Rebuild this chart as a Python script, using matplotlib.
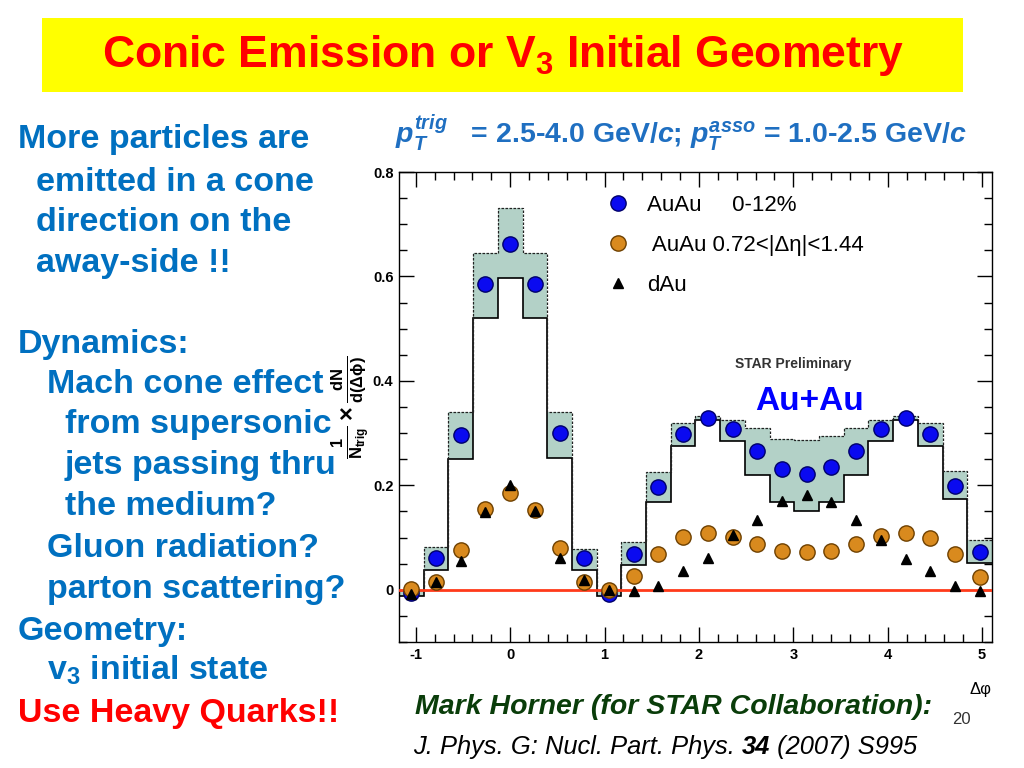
import matplotlib
matplotlib.use("Agg")
import matplotlib.pyplot as plt
import numpy as np

plt.rcParams['font.family'] = ['Liberation Sans', 'DejaVu Sans']
plt.rcParams['mathtext.fontset'] = 'custom'
plt.rcParams['mathtext.rm'] = 'Liberation Sans:bold'
plt.rcParams['mathtext.it'] = 'Liberation Sans:italic:bold'
plt.rcParams['mathtext.bf'] = 'Liberation Sans:bold'

# delta phi bin centres (pi/12 wide bins)
dphi = [-1.047, -0.785, -0.524, -0.262, 0.0, 0.262, 0.524, 0.785, 1.047, 1.309,
        1.571, 1.833, 2.094, 2.356, 2.618, 2.880, 3.142, 3.403, 3.665, 3.927,
        4.189, 4.451, 4.712, 4.974]

auau_central = [-0.006, 0.061, 0.296, 0.586, 0.663, 0.586, 0.300, 0.060, -0.008, 0.069,
                0.197, 0.298, 0.329, 0.307, 0.266, 0.232, 0.222, 0.235, 0.266, 0.307,
                0.329, 0.298, 0.199, 0.073]
auau_deta = [0.002, 0.015, 0.077, 0.154, 0.185, 0.152, 0.080, 0.015, 0.000, 0.026,
             0.068, 0.101, 0.109, 0.101, 0.088, 0.075, 0.072, 0.075, 0.087, 0.103,
             0.109, 0.100, 0.069, 0.024]
dau = [-0.008, 0.015, 0.055, 0.149, 0.200, 0.151, 0.061, 0.018, 0.000, -0.003,
       0.007, 0.036, 0.061, 0.104, 0.134, 0.170, 0.181, 0.168, 0.133, 0.095,
       0.058, 0.036, 0.007, -0.003]
# systematic band for AuAu 0-12%
sys_hi = [0.000, 0.082, 0.341, 0.645, 0.731, 0.645, 0.341, 0.079, 0.000, 0.091,
          0.226, 0.320, 0.333, 0.326, 0.309, 0.289, 0.286, 0.294, 0.309, 0.326,
          0.333, 0.320, 0.227, 0.095]
sys_lo = [-0.011, 0.038, 0.250, 0.521, 0.597, 0.521, 0.253, 0.038, -0.011, 0.047,
          0.169, 0.276, 0.326, 0.284, 0.219, 0.168, 0.151, 0.169, 0.219, 0.284,
          0.326, 0.276, 0.173, 0.051]

xticks = [-1, 0, 1, 2, 3, 4, 5]
xtick_labels = ['-1', '0', '1', '2', '3', '4', '5']
yticks = [0, 0.2, 0.4, 0.6, 0.8]
ytick_labels = ['0', '0.2', '0.4', '0.6', '0.8']

left_lines = [
    ("More particles are", 18, 148, '#0070c0'),
    ("emitted in a cone", 36, 191, '#0070c0'),
    ("direction on the", 36, 231, '#0070c0'),
    ("away-side !!", 36, 272, '#0070c0'),
    ("Dynamics:", 18, 353, '#0070c0'),
    ("Mach cone effect", 47, 393, '#0070c0'),
    ("from supersonic", 65, 433, '#0070c0'),
    ("jets passing thru", 65, 474, '#0070c0'),
    ("the medium?", 65, 515, '#0070c0'),
    ("Gluon radiation?", 47, 557, '#0070c0'),
    ("parton scattering?", 47, 598, '#0070c0'),
    ("Geometry:", 18, 640, '#0070c0'),
    ("v$_3$ initial state", 47, 680, '#0070c0'),
    ("Use Heavy Quarks!!", 18, 722, '#ff0000'),
]

W, H = 1024, 768
fig = plt.figure(figsize=(W / 100, H / 100), dpi=100)
fig.patch.set_facecolor('white')

# title box
fig.patches.append(plt.Rectangle((42 / W, 1 - 92 / H), 921 / W, 74 / H,
                                 transform=fig.transFigure, facecolor='#ffff00',
                                 edgecolor='none', zorder=0))
fig.text(503 / W, 1 - 56 / H, "Conic Emission or V$_3$ Initial Geometry",
         fontsize=32, fontweight='bold', color='#ff0000', ha='center', va='center')

for txt, x, y, c in left_lines:
    fig.text(x / W, 1 - y / H, txt, fontsize=24.5, fontweight='bold', color=c,
             ha='left', va='baseline')

fig.text(395 / W, 1 - 143 / H,
         r"$p_T^{trig}$   = 2.5-4.0 GeV/$c$; $p_T^{asso}$ = 1.0-2.5 GeV/$c$",
         fontsize=20.5, fontweight='bold', color='#1f6fc1', ha='left', va='baseline')

ax = fig.add_axes([399 / W, 1 - 642 / H, 593 / W, 470 / H])

x = np.array(dphi)
w = x[1] - x[0]
edges = np.append(x - w / 2, x[-1] + w / 2)

ax.stairs(sys_hi, edges, baseline=sys_lo, fill=True, color='#b3d1c7', zorder=1)
ax.stairs(sys_lo, edges, baseline=None, color='black', lw=1.2, zorder=2)
ax.stairs(sys_hi, edges, baseline=None, color='#222222', lw=0.9,
          linestyle=(0, (2, 1.2)), zorder=2)
ax.axhline(0, color='#ff3a1a', lw=2, zorder=3)

h1, = ax.plot(x, auau_central, 'o', ms=11, mfc='#0a0af0', mec='#00006a', mew=1,
              linestyle='none', zorder=4, label='AuAu     0-12%')
h2, = ax.plot(x, auau_deta, 'o', ms=11, mfc='#d98a1e', mec='#6e4000', mew=1,
              linestyle='none', zorder=5, label=' AuAu 0.72<|Δη|<1.44')
h3, = ax.plot(x, dau, '^', ms=7, color='black', linestyle='none', zorder=6,
              label='dAu')

ax.set_xlim(edges[0], edges[-1])
ax.set_ylim(-0.1, 0.8)
ax.set_xticks(xticks, labels=xtick_labels)
ax.set_yticks(yticks, labels=ytick_labels)
ax.set_xticks(np.arange(-1.0, 5.2, 0.2), minor=True)
ax.set_yticks(np.arange(-0.1, 0.81, 0.05), minor=True)
ax.tick_params(which='both', direction='in', top=True, right=True, width=1)
ax.tick_params(which='major', length=11, labelsize=10.5, pad=4)
ax.tick_params(which='minor', length=6)
for lab in ax.get_xticklabels() + ax.get_yticklabels():
    lab.set_fontweight('bold')
for s in ax.spines.values():
    s.set_linewidth(1)

ax.set_ylabel(r"$\frac{\mathrm{1}}{\mathrm{N_{trig}}}\times\frac{\mathrm{dN}}{\mathrm{d(\Delta\phi)}}$",
              fontsize=17)
ax.yaxis.set_label_coords(-0.045, 0.5)
ax.set_xlabel('Δφ', loc='right', fontsize=12, labelpad=15)

ax.legend(handles=[h1, h2, h3], loc='upper left', bbox_to_anchor=(0.332, 0.975),
          frameon=False, fontsize=16, handlelength=1.0, handletextpad=0.8,
          labelspacing=0.85, borderpad=0)

ax.text(3.0, 0.433, 'STAR Preliminary', fontsize=10, fontweight='bold',
        color='#333333', ha='center', va='center')
ax.text(3.17, 0.36, 'Au+Au', fontsize=24, fontweight='bold', color='#0000ff',
        ha='center', va='center')

# bottom references
fig.text(415 / W, 1 - 714 / H, 'Mark Horner (for STAR Collaboration):',
         fontsize=20.5, fontweight='bold', fontstyle='italic', color='#0a3d0a',
         ha='left', va='baseline')
fig.text(952 / W, 1 - 724 / H, '20', fontsize=12, color='#333333',
         ha='left', va='baseline')

fig.canvas.draw()
r = fig.canvas.get_renderer()
xpos = 413
for piece, wt in [('J. Phys. G: Nucl. Part. Phys. ', 'normal'), ('34', 'bold'),
                  (' (2007) S995', 'normal')]:
    t = fig.text(xpos / W, 1 - 754 / H, piece, fontsize=18.4, fontstyle='italic',
                 fontweight=wt, color='black', ha='left', va='baseline')
    xpos += t.get_window_extent(r).width

fig.savefig('out.png', dpi=100)
